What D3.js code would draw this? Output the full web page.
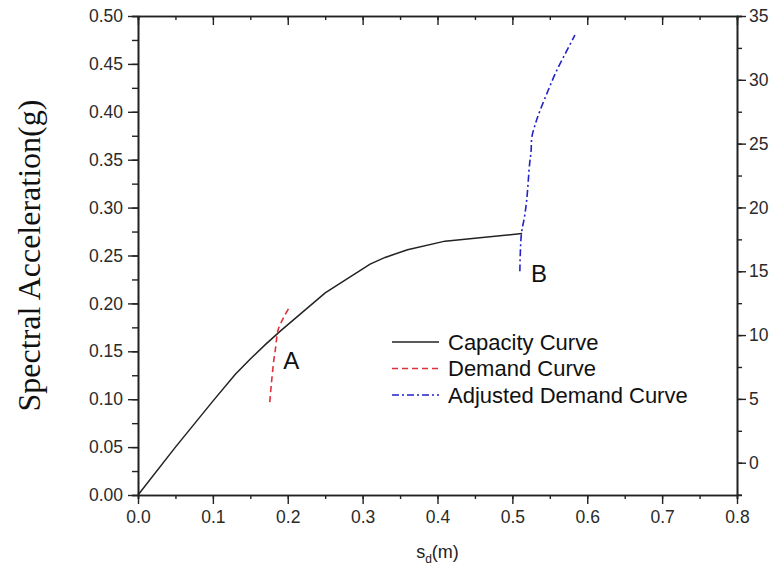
<!DOCTYPE html>
<html>
<head>
<meta charset="utf-8">
<script src="https://cdn.jsdelivr.net/npm/d3@7"></script>
<style>
  body { margin: 0; background: #fff; }
  svg { display: block; }
</style>
</head>
<body>
<div id="chart"></div>
<script>
// capacity curve (s_d in m, Sa in g)
const capX = [0, 0.05, 0.10, 0.13, 0.15, 0.17, 0.19, 0.25, 0.31, 0.33, 0.36, 0.41, 0.45, 0.513]
const capY = [0, 0.050, 0.098, 0.126, 0.142, 0.157, 0.171, 0.211, 0.241, 0.248, 0.256, 0.265, 0.268, 0.273]

// demand curve (left axis)
const demX = [0.176, 0.178, 0.181, 0.184, 0.187, 0.195, 0.203]
const demY = [0.097, 0.115, 0.138, 0.155, 0.172, 0.186, 0.197]

// adjusted demand curve (right axis)
const adjX = [0.510, 0.512, 0.516, 0.519, 0.523, 0.525, 0.526, 0.531, 0.537, 0.548, 0.559, 0.572, 0.5835]
const adjY = [15.0, 17.9, 19.2, 20.5, 23.4, 24.4, 25.5, 26.6, 27.6, 29.2, 30.7, 32.2, 33.5]

const xTicks = [0, 0.1, 0.2, 0.3, 0.4, 0.5, 0.6, 0.7, 0.8]
const yTicks = [0, 0.05, 0.10, 0.15, 0.20, 0.25, 0.30, 0.35, 0.40, 0.45, 0.50]
const y2Ticks = [0, 5, 10, 15, 20, 25, 30, 35]

const legendNames = ["Capacity Curve", "Demand Curve", "Adjusted Demand Curve"]

const width = 773, height = 573
const margin = { top: 16, right: 36, bottom: 78, left: 138 }

const svg = d3.select("#chart").append("svg")
    .attr("width", width)
    .attr("height", height)
    .style("font-family", "'Liberation Sans', Arial, sans-serif")

const x = d3.scaleLinear().domain([0, 0.8]).range([margin.left, width - margin.right])
const y = d3.scaleLinear().domain([0, 0.5]).range([height - margin.bottom, margin.top])
const y2 = d3.scaleLinear().domain([-2.53, 35]).range([height - margin.bottom, margin.top])

const minor = (lo, hi, step) => d3.range(Math.round((hi - lo) / step) + 1).map(i => lo + i * step)

function styleAxis(g) {
    g.select(".domain").attr("stroke", "#222").attr("stroke-width", 1.6)
    g.selectAll(".tick line").attr("stroke", "#222").attr("stroke-width", 1.4)
    g.selectAll(".tick text").attr("fill", "#2a2a2a").style("font-size", "17.5px")
}

// bottom axis
svg.append("g")
    .attr("transform", `translate(0,${y(0)})`)
    .call(d3.axisBottom(x).tickValues(minor(0, 0.8, 0.05)).tickSize(4).tickFormat(""))
    .call(styleAxis)
svg.append("g")
    .attr("transform", `translate(0,${y(0)})`)
    .call(d3.axisBottom(x).tickValues(xTicks).tickSize(9).tickSizeOuter(0).tickPadding(7).tickFormat(d3.format(".1f")))
    .call(styleAxis)

// top axis, ticks pointing in
svg.append("g")
    .attr("transform", `translate(0,${y(0.5)})`)
    .call(d3.axisTop(x).tickValues(minor(0, 0.8, 0.05)).tickSize(-4).tickFormat(""))
    .call(styleAxis)
svg.append("g")
    .attr("transform", `translate(0,${y(0.5)})`)
    .call(d3.axisTop(x).tickValues(xTicks).tickSize(-9).tickSizeOuter(0).tickFormat(""))
    .call(styleAxis)

// left axis
svg.append("g")
    .attr("transform", `translate(${x(0)},0)`)
    .call(d3.axisLeft(y).tickValues(minor(0, 0.5, 0.025)).tickSize(6).tickFormat(""))
    .call(styleAxis)
svg.append("g")
    .attr("transform", `translate(${x(0)},0)`)
    .call(d3.axisLeft(y).tickValues(yTicks).tickSize(10).tickSizeOuter(0).tickPadding(5).tickFormat(d3.format(".2f")))
    .call(styleAxis)

// right axis
svg.append("g")
    .attr("transform", `translate(${x(0.8)},0)`)
    .call(d3.axisRight(y2).tickValues(minor(-2.5, 35, 2.5)).tickSize(5).tickFormat(""))
    .call(styleAxis)
svg.append("g")
    .attr("transform", `translate(${x(0.8)},0)`)
    .call(d3.axisRight(y2).tickValues(y2Ticks).tickSize(9).tickSizeOuter(0).tickPadding(3))
    .call(styleAxis)

// curves
const capLine = d3.line().x(d => x(d[0])).y(d => y(d[1]))
const adjLine = d3.line().x(d => x(d[0])).y(d => y2(d[1])).curve(d3.curveCatmullRom)
const demLine = d3.line().x(d => x(d[0])).y(d => y(d[1])).curve(d3.curveCatmullRom)

svg.append("path")
    .datum(d3.zip(capX, capY))
    .attr("d", capLine)
    .attr("fill", "none")
    .attr("stroke", "#222")
    .attr("stroke-width", 1.5)

svg.append("path")
    .datum(d3.zip(demX, demY))
    .attr("d", demLine)
    .attr("fill", "none")
    .attr("stroke", "#e0303a")
    .attr("stroke-width", 1.6)
    .attr("stroke-dasharray", "6,4")

svg.append("path")
    .datum(d3.zip(adjX, adjY))
    .attr("d", adjLine)
    .attr("fill", "none")
    .attr("stroke", "#2222c8")
    .attr("stroke-width", 1.6)
    .attr("stroke-dasharray", "7,3,2,3")

// point labels
svg.append("text").attr("x", x(0.194)).attr("y", y(0.132)).text("A")
    .style("font-size", "24px").attr("fill", "#111")
svg.append("text").attr("x", x(0.525)).attr("y", y(0.222)).text("B")
    .style("font-size", "24px").attr("fill", "#111")

// legend
const legendStyles = [
    { stroke: "#222", dash: null },
    { stroke: "#e0303a", dash: "6,4" },
    { stroke: "#2222c8", dash: "7,3,2,3" }
]
const legend = svg.append("g").attr("transform", "translate(392,342)")
legendNames.forEach((name, i) => {
    const row = legend.append("g").attr("transform", `translate(0,${i * 26.5})`)
    row.append("line")
        .attr("x1", 0).attr("x2", 47).attr("y1", 0).attr("y2", 0)
        .attr("stroke", legendStyles[i].stroke)
        .attr("stroke-width", 1.5)
        .attr("stroke-dasharray", legendStyles[i].dash)
    row.append("text")
        .attr("x", 56).attr("y", 0).attr("dy", "0.35em")
        .style("font-size", "22px")
        .attr("fill", "#111")
        .text(name)
})

// axis titles
const xt = svg.append("text")
    .attr("x", x(0.4)).attr("y", 558)
    .attr("text-anchor", "middle")
    .style("font-size", "18px")
    .attr("fill", "#222")
xt.append("tspan").text("s")
xt.append("tspan").attr("dy", 5).style("font-size", "12px").text("d")
xt.append("tspan").attr("dy", -5).text("(m)")

svg.append("text")
    .attr("transform", `translate(40,${(y(0) + y(0.5)) / 2}) rotate(-90)`)
    .attr("text-anchor", "middle")
    .style("font-family", "'Liberation Serif', 'Times New Roman', serif")
    .style("font-size", "32px")
    .attr("fill", "#111")
    .text("Spectral Acceleration(g)")
</script>
</body>
</html>
